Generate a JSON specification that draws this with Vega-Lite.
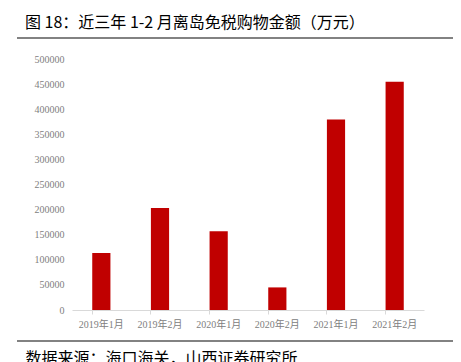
{
  "$schema": "https://vega.github.io/schema/vega-lite/v6.json",
  "width": 352,
  "height": 251,
  "autosize": "none",
  "padding": {"left": 72, "top": 59, "right": 37, "bottom": 52},
  "background": "white",
  "config": {"view": {"stroke": null}},
  "title": {
    "text": "图 18：近三年 1-2 月离岛免税购物金额（万元）",
    "anchor": "start",
    "frame": "group",
    "dx": -47,
    "offset": 6,
    "font": "Noto Sans CJK SC",
    "fontSize": 16,
    "fontWeight": "normal",
    "color": "#000000"
  },
  "layer": [
    {
      "data": {
        "values": [
          {"month": "2019年1月", "amount": 113500},
          {"month": "2019年2月", "amount": 203000},
          {"month": "2020年1月", "amount": 157000},
          {"month": "2020年2月", "amount": 45000},
          {"month": "2021年1月", "amount": 379500},
          {"month": "2021年2月", "amount": 454500}
        ]
      },
      "mark": {"type": "bar", "color": "#C00000"},
      "encoding": {
        "x": {
          "field": "month",
          "type": "nominal",
          "sort": null,
          "scale": {"paddingInner": 0.69, "paddingOuter": 0.345},
          "axis": {
            "labelAngle": 0,
            "labelFont": "Liberation Serif, Noto Sans CJK SC",
            "labelFontSize": 10,
            "labelColor": "#808080",
            "labelPadding": 5,
            "domainColor": "#d9d9d9",
            "tickColor": "#d9d9d9",
            "tickSize": 4,
            "bandPosition": 0,
            "title": "数据来源：海口海关，山西证券研究所",
            "titleFont": "Noto Sans CJK SC",
            "titleFontSize": 16,
            "titleFontWeight": "normal",
            "titleColor": "#000000",
            "titleAnchor": "start",
            "titleAlign": "left",
            "titleX": -47,
            "titleY": 48,
            "titleBaseline": "middle"
          }
        },
        "y": {
          "field": "amount",
          "type": "quantitative",
          "scale": {"domain": [0, 500000], "nice": false},
          "axis": {
            "values": [0, 50000, 100000, 150000, 200000, 250000, 300000, 350000, 400000, 450000, 500000],
            "format": "d",
            "domain": false,
            "ticks": false,
            "grid": false,
            "labelFont": "Liberation Serif",
            "labelFontSize": 10,
            "labelColor": "#808080",
            "labelPadding": 8,
            "title": null
          }
        }
      }
    },
    {
      "data": {"values": [{"pos": "top"}]},
      "mark": {"type": "rule", "color": "#595959", "strokeWidth": 1.5, "clip": false},
      "encoding": {
        "x": {"value": -55},
        "x2": {"value": 381},
        "y": {"value": -21}
      }
    },
    {
      "data": {"values": [{"pos": "bottom"}]},
      "mark": {"type": "rule", "color": "#595959", "strokeWidth": 1.5, "clip": false},
      "encoding": {
        "x": {"value": -55},
        "x2": {"value": 381},
        "y": {"value": 282}
      }
    }
  ]
}
